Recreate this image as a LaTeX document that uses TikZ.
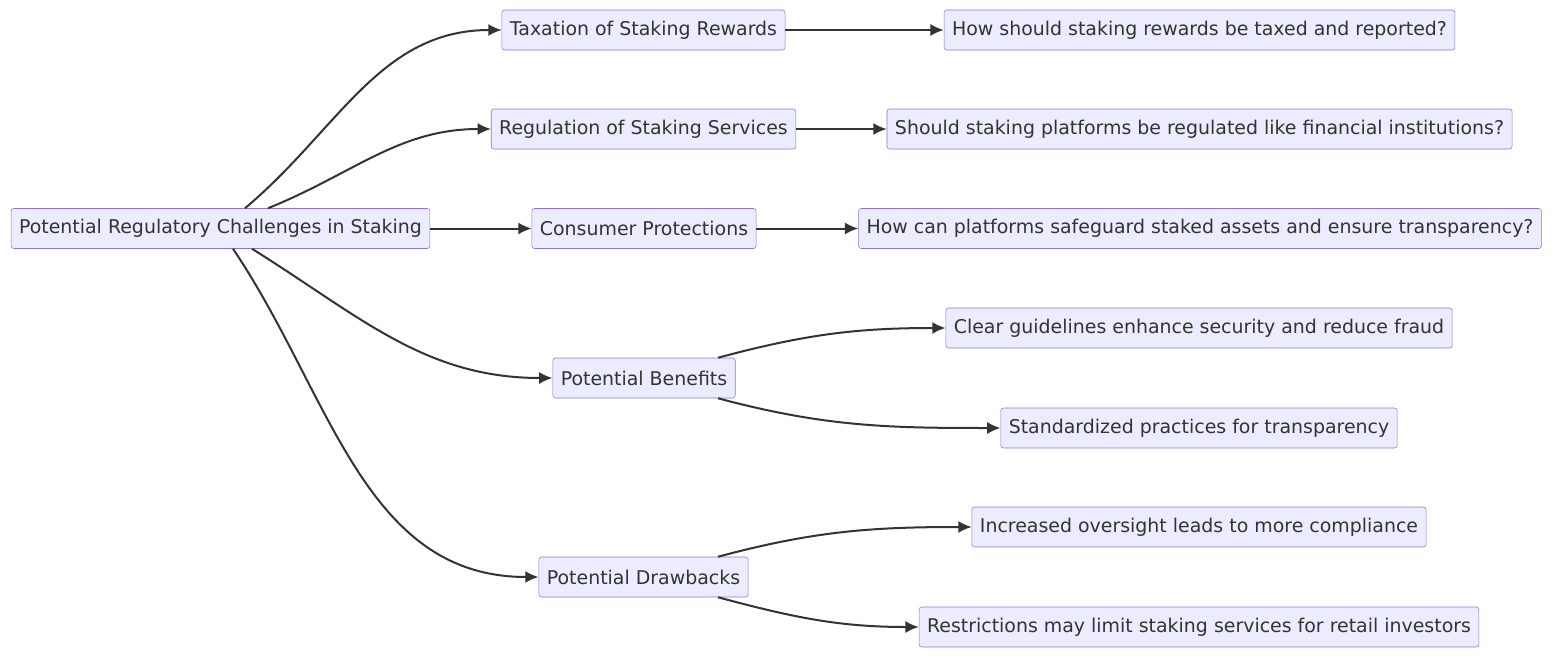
\documentclass[tikz,border=0pt]{standalone}
\usepackage{fontspec}
\setmainfont{DejaVu Sans}
\usetikzlibrary{arrows.meta}
\definecolor{boxfill}{HTML}{ECECFF}
\definecolor{boxline}{HTML}{9370DB}
\definecolor{ink}{HTML}{333333}
\tikzset{
  box/.style={draw=boxline, fill=boxfill, rounded corners=2pt, text=ink,
    minimum height=30pt, inner xsep=6pt, font=\fontsize{14.2}{16}\selectfont},
  link/.style={draw=ink, line width=1.5pt, -{Latex[length=10pt,width=9pt]}}
}
\begin{document}
\begin{tikzpicture}[x=0.75pt,y=-0.75pt]
	\useasboundingbox (0,0) rectangle (1568,664);
	
	%root
	\node[box] (root) at (220.5,228.5) {Potential Regulatory Challenges in Staking};
	
	%topics
	\node[box] (tax) at (643.5,30) {Taxation of Staking Rewards};
	\node[box] (reg) at (643.5,129) {Regulation of Staking Services};
	\node[box] (cons) at (644,228.5) {Consumer Protections};
	\node[box] (ben) at (644,378) {Potential Benefits};
	\node[box] (drw) at (643.5,577) {Potential Drawbacks};
	
	%questions
	\node[box] (taxq) at (1199.5,30) {How should staking rewards be taxed and reported?};
	\node[box] (regq) at (1199.5,129) {Should staking platforms be regulated like financial institutions?};
	\node[box] (consq) at (1200,228.5) {How can platforms safeguard staked assets and ensure transparency?};
	\node[box] (benA) at (1199,328) {Clear guidelines enhance security and reduce fraud};
	\node[box] (benB) at (1199,428) {Standardized practices for transparency};
	\node[box] (drwA) at (1199,527) {Increased oversight leads to more compliance};
	\node[box] (drwB) at (1199,627) {Restrictions may limit staking services for retail investors};
	
	%links
	\draw[link] ([xshift=24.5*0.75pt]root.north) to[out=40,in=180] (tax.west);
	\draw[link] ([xshift=47.5*0.75pt]root.north) to[out=22,in=180] (reg.west);
	\draw[link] (root.east) -- (cons.west);
	\draw[link] ([xshift=31.5*0.75pt]root.south) to[out=-32,in=180] (ben.west);
	\draw[link] ([xshift=12.5*0.75pt]root.south) to[out=-56,in=180] (drw.west);
	
	\draw[link] (tax.east) -- (taxq.west);
	\draw[link] (reg.east) -- (regq.west);
	\draw[link] (cons.east) -- (consq.west);
	\draw[link] ([xshift=74*0.75pt]ben.north) to[out=15,in=180] (benA.west);
	\draw[link] ([xshift=74*0.75pt]ben.south) to[out=-15,in=180] (benB.west);
	\draw[link] ([xshift=74.5*0.75pt]drw.north) to[out=15,in=180] (drwA.west);
	\draw[link] ([xshift=74.5*0.75pt]drw.south) to[out=-15,in=180] (drwB.west);
\end{tikzpicture}
\end{document}
